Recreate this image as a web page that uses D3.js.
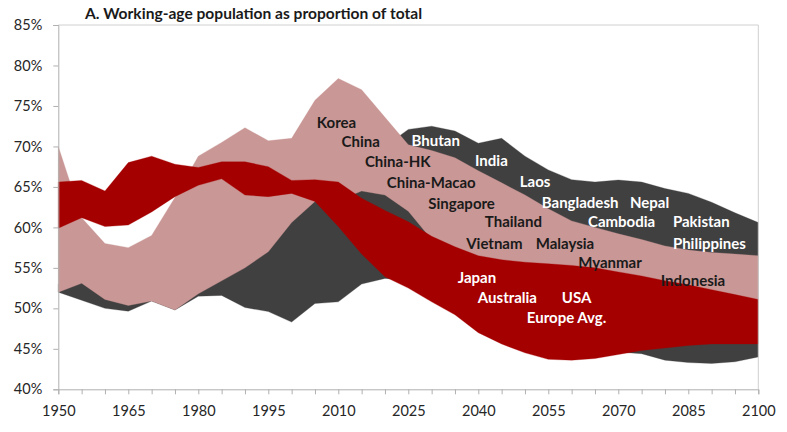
<!DOCTYPE html>
<html><head><meta charset="utf-8">
<script src="https://cdn.jsdelivr.net/npm/d3@7/dist/d3.min.js"></script>
<style>
body{margin:0;background:#fff;}
svg{display:block;font-family:Lato,"Open Sans",sans-serif;}
</style></head><body>
<svg id="chart" width="787" height="432"></svg>
<script>
const years = [1950,1955,1960,1965,1970,1975,1980,1985,1990,1995,2000,2005,2010,2015,2020,2025,2030,2035,2040,2045,2050,2055,2060,2065,2070,2075,2080,2085,2090,2095,2100];
const grayLo = [52.0,51.0,50.0,49.65,50.9,49.8,51.5,51.6,50.1,49.6,48.3,50.6,50.8,53.0,53.7,53.5,52.5,51.0,49.0,48.0,47.0,46.0,45.5,45.0,44.6,44.4,43.6,43.3,43.2,43.4,44.0];
const grayHi = [53,54,52,51.5,52,51,53,54.5,56,58,62,64,66,67,70,72.1,72.5,71.9,70.4,71.0,68.8,67.1,65.9,65.6,65.85,65.6,64.8,64.2,63.1,61.8,60.6];
const pinkLo = [52.0,53.1,51.1,50.35,50.9,49.8,51.8,53.4,55.0,57.0,60.6,63.2,63.3,64.5,64.0,62.0,58.5,54.0,52.0,51.0,50.0,49.5,49.5,49.5,49.5,49.5,49.0,49.0,49.0,48.5,48.5];
const pinkHi = [70.0,61.2,58.0,57.5,59.0,63.7,68.8,70.5,72.3,70.7,71.0,75.7,78.4,77.0,73.6,70.2,69.5,68.6,67.0,65.5,64.0,62.3,60.8,60.0,59.2,58.5,57.7,57.2,56.9,56.7,56.5];
const redLo = [59.9,61.2,60.1,60.3,61.9,63.8,65.2,66.0,64.0,63.8,64.2,63.2,60.1,56.7,53.9,52.5,50.8,49.2,47.0,45.6,44.5,43.7,43.6,43.8,44.3,44.8,45.1,45.4,45.6,45.6,45.6];
const redHi = [65.6,65.8,64.5,68.0,68.8,67.8,67.4,68.1,68.1,67.5,65.8,65.9,65.6,63.6,62.1,60.7,58.9,57.6,56.5,56.0,55.7,55.5,55.3,55.0,54.5,54.0,53.4,52.9,52.3,51.7,51.1];
const yTicks = [40,45,50,55,60,65,70,75,80,85];
const xTicks = years;
const xLabels = [1950,1965,1980,1995,2010,2025,2040,2055,2070,2085,2100];
const title = "A. Working-age population as proportion of total";

// annotation labels: text, year (left edge), value (centre), dark/white
const labelText = ["Korea","China","China-HK","China-Macao","Singapore","Thailand","Vietnam","Malaysia","Myanmar","Indonesia",
  "Japan","Australia","USA","Europe Avg.",
  "Bhutan","India","Laos","Bangladesh","Nepal","Cambodia","Pakistan","Philippines"];
const labelYear = [2005.4,2010.7,2015.7,2020.4,2029.3,2041.4,2037.4,2052.3,2061.4,2079.1,
  2035.6,2039.9,2057.9,2050.4,
  2025.7,2039.3,2048.9,2053.6,2072.5,2063.5,2081.7,2081.7];
const labelVal = [73.0,70.55,68.1,65.5,63.0,60.7,57.95,57.95,55.7,53.4,
  53.75,51.3,51.3,48.8,
  70.7,68.2,65.6,63.1,63.1,60.7,60.7,57.95];
const labelDark = [1,1,1,1,1,1,1,1,1,1, 0,0,0,0, 0,0,0,0,0,0,0,0];

const svg = d3.select("#chart");
const x = d3.scaleLinear().domain([1950,2100]).range([58.3,758.3]);
const y = d3.scaleLinear().domain([40,85]).range([389.3,25]);

const colors = {gray:"#404040", pink:"#c99795", red:"#a50000"};
function band(lo, hi, col){
  const data = years.map((yr,i)=>({yr, lo:lo[i], hi:hi[i]}));
  svg.append("path").datum(data)
    .attr("d", d3.area().x(d=>x(d.yr)).y0(d=>y(d.lo)).y1(d=>y(d.hi)))
    .attr("fill", col).attr("stroke", col).attr("stroke-width",0.3);
}
band(grayLo, grayHi, colors.gray);
band(pinkLo, pinkHi, colors.pink);
band(redLo, redHi, colors.red);

svg.append("line").attr("x1",x(1950)).attr("x2",x(2100)).attr("y1",y(85)).attr("y2",y(85)).attr("stroke","#d0d0d0");
svg.append("line").attr("x1",x(2100)).attr("x2",x(2100)).attr("y1",y(85)).attr("y2",y(40)).attr("stroke","#d0d0d0");

const yAxis = svg.append("g").attr("transform",`translate(${x(1950)},0)`)
  .call(d3.axisLeft(y).tickValues(yTicks).tickFormat(d=>d+"%").tickSize(5).tickPadding(11));
const xAxis = svg.append("g").attr("transform",`translate(0,${y(40)})`)
  .call(d3.axisBottom(x).tickValues(xTicks).tickFormat(d=>xLabels.includes(d)?String(d):"").tickSize(5).tickPadding(11.5));
[yAxis,xAxis].forEach(g=>{
  g.selectAll("path,line").attr("stroke","#b0b0b0");
  g.selectAll("text").attr("fill","#262626").style("font-size","14.5px").style("font-family","Lato");
});

svg.append("text").attr("x",85).attr("y",19).text(title)
  .attr("font-weight","700").attr("font-size",15).attr("fill","#1a1a1a")
  .attr("textLength",337).attr("lengthAdjust","spacingAndGlyphs");

svg.append("g").selectAll("text").data(labelText).join("text")
  .attr("x",(d,i)=>x(labelYear[i])).attr("y",(d,i)=>y(labelVal[i])).attr("dy","0.36em")
  .attr("font-weight","700").attr("font-size",15)
  .attr("fill",(d,i)=>labelDark[i]?"#1a1a1a":"#ffffff")
  .text(d=>d);
</script>
</body></html>
